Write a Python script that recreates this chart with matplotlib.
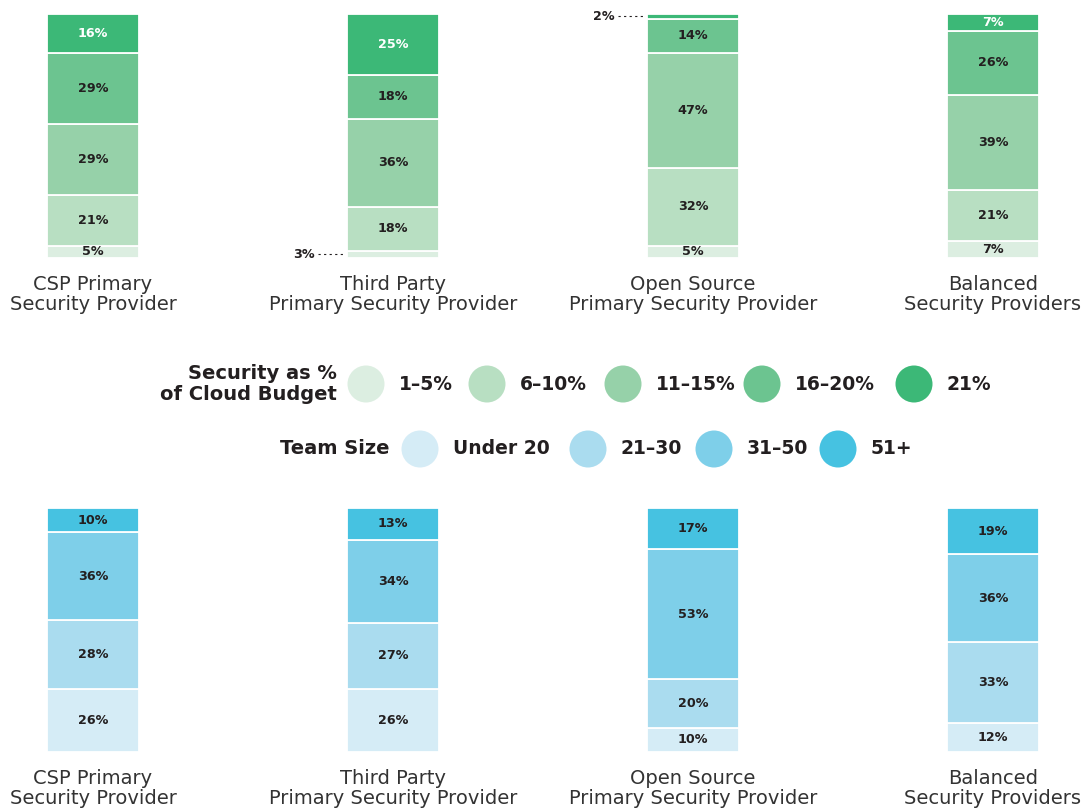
import matplotlib.pyplot as plt
from matplotlib.patches import Circle

# Provider groups
providers = ['CSP Primary\nSecurity Provider', 'Third Party\nPrimary Security Provider',
             'Open Source\nPrimary Security Provider', 'Balanced\nSecurity Providers']

# Security as % of cloud budget (bottom -> top)
budget_labels = ['1–5%', '6–10%', '11–15%', '16–20%', '21%']
budget_values = [
    [5, 21, 29, 29, 16],
    [3, 18, 36, 18, 25],
    [5, 32, 47, 14, 2],
    [7, 21, 39, 26, 7],
]
budget_colors = ['#dceee1', '#b8dfc2', '#96d1a9', '#6cc490', '#3cb877']

# Team size (bottom -> top)
team_labels = ['Under 20', '21–30', '31–50', '51+']
team_values = [
    [26, 28, 36, 10],
    [26, 27, 34, 13],
    [10, 20, 53, 17],
    [12, 33, 36, 19],
]
team_colors = ['#d5ecf6', '#aadcef', '#7ecfe9', '#46c2e1']

W, H = 1086, 811
fig = plt.figure(figsize=(W / 100, H / 100), dpi=100)
plt.rcParams['font.family'] = ['DejaVu Sans']

text_dark = '#231f20'
bar_w = 92 / 300


def stacked(ax, values, colors, top_white=False):
    for i, vals in enumerate(values):
        bottom = 0
        for j, v in enumerate(vals):
            ax.bar(i, v, bottom=bottom, width=bar_w, color=colors[j],
                   edgecolor='white', linewidth=1.3)
            mid = bottom + v / 2
            col = 'white' if (top_white and j == len(vals) - 1) else text_dark
            if v >= 4:
                ax.text(i, mid, f'{v}%', ha='center', va='center', fontsize=9.2,
                        fontweight='bold', color=col)
            else:
                # small segment: label outside with dotted leader
                x0 = i - bar_w / 2 - 0.006
                x1 = x0 - 0.09
                ax.plot([x1, x0], [mid, mid], color=text_dark, lw=0.8,
                        linestyle=(0, (2, 3)), clip_on=False)
                ax.text(x1 - 0.012, mid, f'{v}%', ha='right', va='center',
                        fontsize=9.2, fontweight='bold', color=text_dark)
            bottom += v
    ax.set_xlim(-93 / 300, (W - 93) / 300)
    ax.set_ylim(0, 100)
    ax.set_xticks(range(len(providers)))
    ax.set_xticklabels(providers, fontsize=14, color='#333333', linespacing=1.12)
    ax.tick_params(axis='x', length=0, pad=12)
    ax.set_yticks([])
    for s in ax.spines.values():
        s.set_visible(False)


ax_top = fig.add_axes([0, 1 - 258 / H, 1, 244 / H])
stacked(ax_top, budget_values, budget_colors, top_white=True)

ax_bot = fig.add_axes([0, 1 - 752 / H, 1, 244 / H])
stacked(ax_bot, team_values, team_colors)

# Legends drawn in a pixel-space overlay
leg = fig.add_axes([0, 0, 1, 1], zorder=-1)
leg.set_xlim(0, W)
leg.set_ylim(H, 0)
leg.axis('off')


def legend_row(title, title_right, y, labels, colors, circle_x):
    leg.text(title_right, y, title, ha='right', va='center', fontsize=14,
             fontweight='bold', color=text_dark, linespacing=1.15)
    for lab, col, cx in zip(labels, colors, circle_x):
        leg.add_patch(Circle((cx, y), 18.5, color=col, lw=0))
        leg.text(cx + 33, y, lab, ha='left', va='center', fontsize=13.5,
                 fontweight='bold', color=text_dark)


legend_row('Security as %\nof Cloud Budget', 337, 384, budget_labels,
           budget_colors, [366, 487, 623, 762, 914])
legend_row('Team Size', 390, 449, team_labels, team_colors,
           [420, 588, 714, 838])

fig.savefig('out.png', dpi=100, facecolor='white')
